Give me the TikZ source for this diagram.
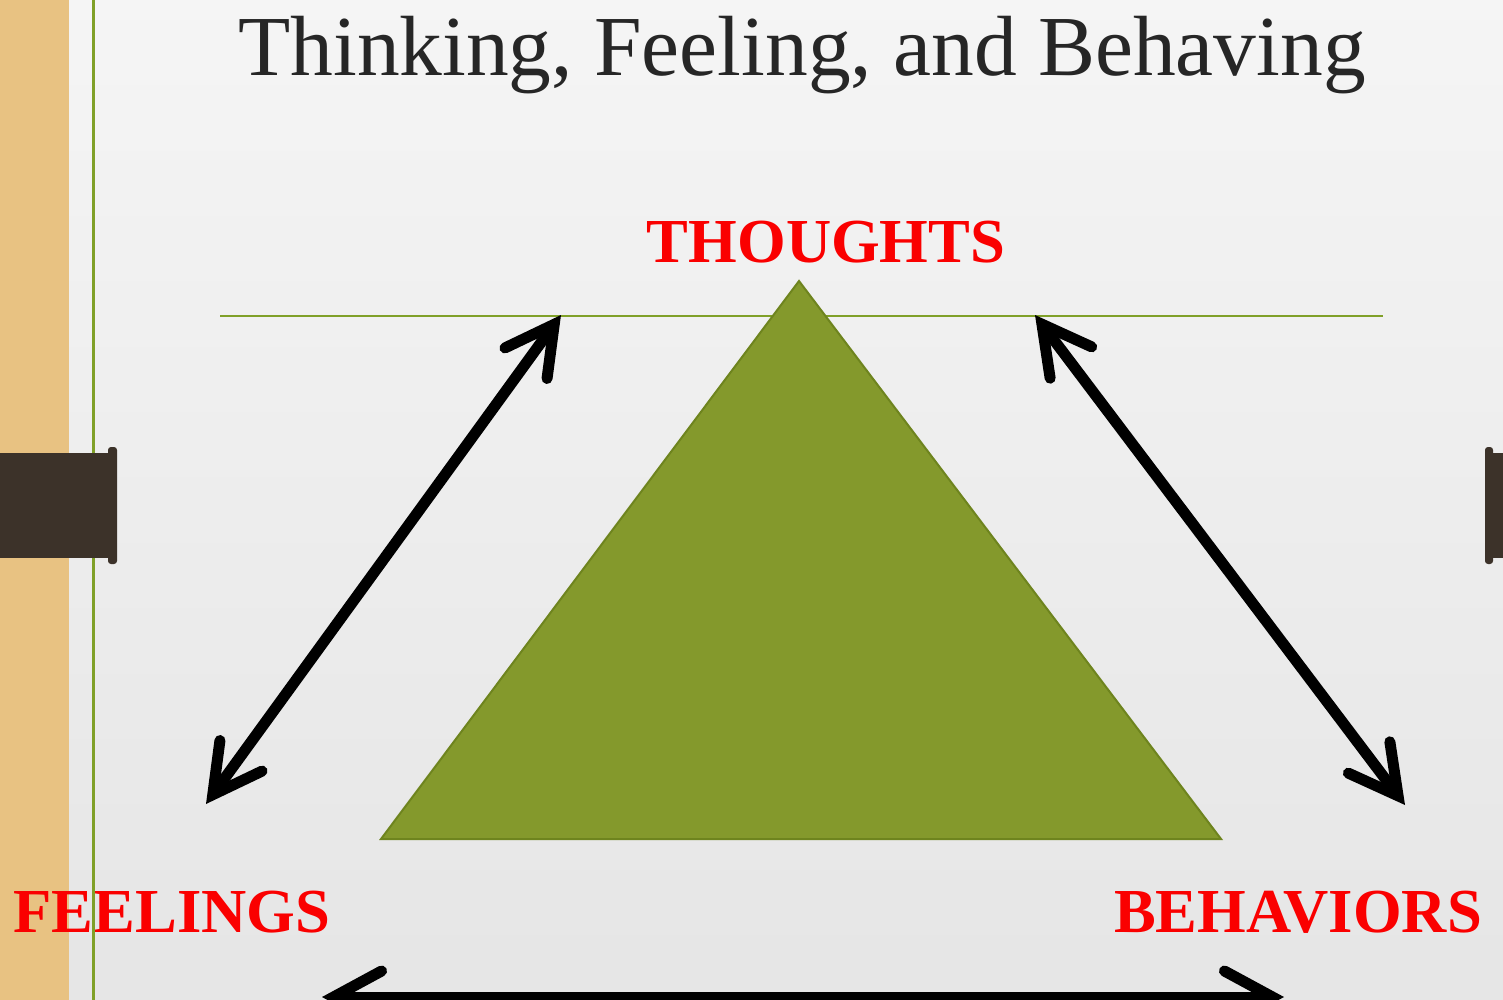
\documentclass[tikz,border=0pt]{standalone}
\usepackage{fontspec}
\setmainfont{Liberation Serif}
\usetikzlibrary{arrows.meta, positioning}
\definecolor{olive1}{RGB}{132, 153, 44}
\definecolor{olivedark}{RGB}{110, 132, 30}
\definecolor{linegreen}{RGB}{128, 160, 40}
\definecolor{woodtan}{RGB}{232, 194, 130}
\definecolor{clipbrown}{RGB}{60, 50, 41}
\definecolor{titlegray}{RGB}{38, 38, 38}
\definecolor{labelred}{RGB}{250, 0, 0}

\begin{document}
\begin{tikzpicture}[
  x=0.01cm, y=-0.01cm,
  cornertext/.style={font=\fontsize{17.8}{20}\selectfont\bfseries, text=labelred, inner sep=0pt, anchor=base},
  barb/.tip={Straight Barb[length=4.8mm, width=5.2mm, line cap=round]},
  twoway/.style={line width=0.11cm, {barb}-{barb}}
]
  % page, wood strip and rules
  \shade[top color=black!4, bottom color=black!10] (0,0) rectangle (1503,1000);
  \useasboundingbox (0,0) rectangle (1503,1000);
  \fill[woodtan] (0,0) rectangle (69,1000);
  \draw[linegreen, line width=0.025cm] (220,316) -- (1383,316);

  \node[font=\fontsize{24.3}{28}\selectfont, text=titlegray, inner sep=0pt, anchor=base] (title) at (802,75) {Thinking, Feeling, and Behaving};

  \coordinate (apex) at (799,281);
  \coordinate (baseL) at (381,839);
  \coordinate (baseR) at (1221,839);
  \filldraw[fill=olive1, draw=olivedark, line width=0.02cm] (apex) -- (baseR) -- (baseL) -- cycle;

  \node[cornertext] (thoughts) at (826,262) {THOUGHTS};
  \node[cornertext] (feelings) at (172,932) {FEELINGS};
  \node[cornertext] (behaviors) at (1298,932) {BEHAVIORS};

  \coordinate (tl) at (561,315);
  \coordinate (fl) at (206,804);
  \coordinate (tr) at (1035,315);
  \coordinate (br) at (1405,805);
  \coordinate (bl) at (322,997);
  \coordinate (bb) at (1284,997);
  \draw[twoway] (fl) -- (tl);
  \draw[twoway] (tr) -- (br);
  \draw[twoway] (bl) -- (bb);

  \draw[linegreen, line width=0.03cm] (93,0) -- (93,1000);

  % binder clips
  \fill[clipbrown] (0,453) rectangle (112,558);
  \fill[clipbrown, rounded corners=0.03cm] (108,447) rectangle (117,564);
  \fill[clipbrown] (1490,453) rectangle (1503,558);
  \fill[clipbrown, rounded corners=0.03cm] (1485,447) rectangle (1493,564);
\end{tikzpicture}
\end{document}
